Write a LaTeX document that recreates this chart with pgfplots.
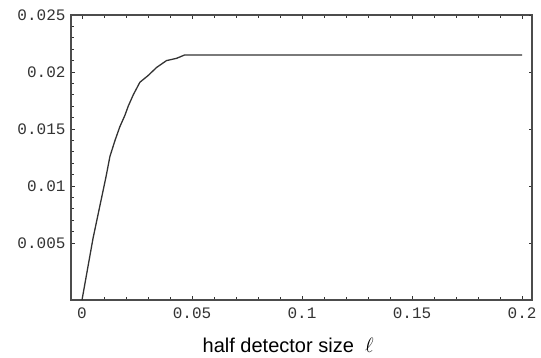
\documentclass[border=0pt]{standalone}
\usepackage{fontspec}
\usepackage{pgfplots}
\pgfplotsset{compat=1.18}
\setmainfont{Liberation Sans}
\newfontfamily\monofont{Liberation Mono}
\pgfplotstableread{
x y
0 0
0.005 0.0054
0.0109 0.0108
0.0127 0.0126
0.015 0.0140
0.0172 0.0152
0.0195 0.0162
0.021 0.0170
0.0233 0.0180
0.0263 0.0191
0.0301 0.0197
0.0339 0.0204
0.0384 0.0210
0.043 0.0212
0.0467 0.0215
0.2 0.0215
}\curve
\begin{document}
\begin{tikzpicture}
\begin{axis}[
  name=main,
  scale only axis, width=461pt, height=285pt,
  xmin=-0.005, xmax=0.2045, ymin=0, ymax=0.025,
  scaled ticks=false,
  xtick={0,0.05,0.1,0.15,0.2},
  xticklabels={0,0.05,0.1,0.15,0.2},
  ytick={0.005,0.01,0.015,0.02,0.025},
  yticklabels={0.005,0.01,0.015,0.02,0.025},
  minor x tick num=4, minor y tick num=4,
  tick align=inside,
  xtick pos=both, ytick pos=left,
  major tick length=4pt, minor tick length=3pt,
  tick style={black!80, line width=0.9pt},
  axis line style={black!70, line width=1.3pt},
  ticklabel style={font=\monofont\fontsize{16}{16}\selectfont, text=black!80},
  xticklabel style={yshift=-4pt},
  yticklabel style={xshift=-2pt},
  xlabel={half detector size\ \ $\ell$},
  xlabel style={font=\fontsize{20}{20}\selectfont, at={(axis description cs:0.471,0)}, anchor=base, yshift=-52pt},
]
\addplot[black!80, line width=1.3pt] table[x=x,y=y] {\curve};
\end{axis}
\begin{axis}[
  scale only axis, width=461pt, height=285pt,
  at={(main.south west)}, anchor=south west,
  xmin=-0.005, xmax=0.2045, ymin=0, ymax=0.025,
  scaled ticks=false,
  hide x axis, axis y line*=right,
  ytick={0.005,0.01,0.015,0.02,0.025},
  yticklabels={}, minor y tick num=0,
  tick align=inside, major tick length=3pt,
  tick style={black!80, line width=0.9pt},
  axis line style={black!70, line width=1.3pt},
]
\end{axis}
\pgfresetboundingbox
\useasboundingbox ([shift={(-71pt,-57pt)}]main.south west) rectangle ([shift={(9pt,15pt)}]main.north east);
\end{tikzpicture}
\end{document}
